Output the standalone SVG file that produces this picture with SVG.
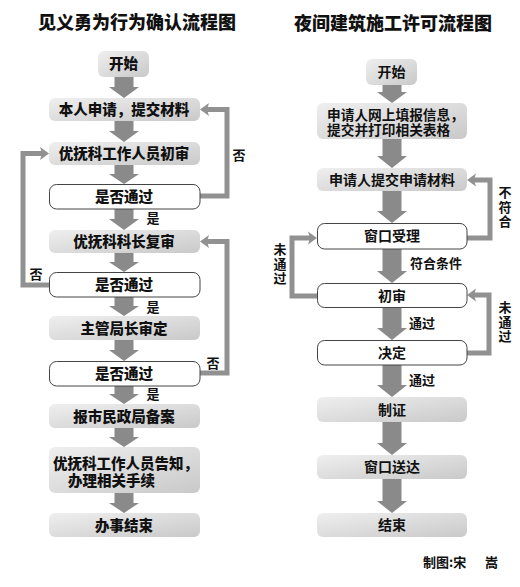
<svg xmlns="http://www.w3.org/2000/svg" width="520" height="587" viewBox="0 0 520 587">
<defs>
<linearGradient id="g" x1="0" y1="0" x2="1" y2="1">
<stop offset="0" stop-color="#efefef"/>
<stop offset="1" stop-color="#c9c9c9"/>
</linearGradient>
<style>
.box{fill:url(#g);}
.dec{fill:#ffffff;stroke:#444444;stroke-width:1;}
.t{font-family:"Noto Sans CJK SC","Noto Sans CJK JP",sans-serif;font-weight:700;fill:#111111;text-anchor:middle;}
.tl{font-size:14.5px;font-weight:900;}
.tr{font-size:14px;}
.title{font-family:"Noto Sans CJK SC",sans-serif;font-weight:900;font-size:18px;fill:#111111;text-anchor:middle;}
.lab{font-family:"Noto Sans CJK SC",sans-serif;font-weight:700;font-size:13px;fill:#111111;text-anchor:middle;}
.vlab{font-family:"Noto Sans CJK SC",sans-serif;font-weight:700;font-size:13px;fill:#111111;writing-mode:vertical-rl;text-orientation:upright;letter-spacing:1.5px;}
.arr{fill:#8a8a8a;}
.fb{fill:none;stroke:#919191;stroke-width:5;}
.ah{fill:#919191;}
</style>
</defs>
<rect width="520" height="587" fill="#ffffff"/>
<text class="title" x="137" y="29">见义勇为行为确认流程图</text>
<text class="title" x="393" y="30">夜间建筑施工许可流程图</text>

<g id="connectors">
<path class="arr" d="M114.5,77 H133.5 V87 H139 L124,98 L109,87 H114.5 Z"/>
<path class="arr" d="M114.5,121 H133.5 V131 H139 L124,142 L109,131 H114.5 Z"/>
<path class="arr" d="M114.5,165 H133.5 V174 H139 L124,184 L109,174 H114.5 Z"/>
<path class="arr" d="M114.5,209 H133.5 V219 H139 L124,230 L109,219 H114.5 Z"/>
<path class="arr" d="M114.5,253 H133.5 V262 H139 L124,272 L109,262 H114.5 Z"/>
<path class="arr" d="M114.5,297 H133.5 V306 H139 L124,316 L109,306 H114.5 Z"/>
<path class="arr" d="M114.5,340 H133.5 V350 H139 L124,361 L109,350 H114.5 Z"/>
<path class="arr" d="M114.5,386 H133.5 V394 H139 L124,404 L109,394 H114.5 Z"/>
<path class="arr" d="M114.5,428 H133.5 V437 H139 L124,447 L109,437 H114.5 Z"/>
<path class="arr" d="M114.5,493 H133.5 V503 H139 L124,513 L109,503 H114.5 Z"/>

<path class="arr" d="M382.5,85 H401.5 V92 H407 L392,103 L377,92 H382.5 Z"/>
<path class="arr" d="M382.5,139 H401.5 V156 H407 L392,168 L377,156 H382.5 Z"/>
<path class="arr" d="M382.5,191 H401.5 V211 H407 L392,223 L377,211 H382.5 Z"/>
<path class="arr" d="M382.5,249 H401.5 V271 H407 L392,283 L377,271 H382.5 Z"/>
<path class="arr" d="M382.5,307 H401.5 V328 H407 L392,340 L377,328 H382.5 Z"/>
<path class="arr" d="M382.5,365 H401.5 V385 H407 L392,397 L377,385 H382.5 Z"/>
<path class="arr" d="M382.5,422 H401.5 V443 H407 L392,455 L377,443 H382.5 Z"/>
<path class="arr" d="M382.5,479 H401.5 V501 H407 L392,513 L377,501 H382.5 Z"/>

<path class="fb" d="M200,196 H227 V109.5 H206"/>
<path class="ah" d="M200,109.5 L209,103 L207,109.5 L209,116 Z"/>
<path class="fb" d="M49,285 H23 V153.5 H43"/>
<path class="ah" d="M49,153.5 L40,147 L42,153.5 L40,160 Z"/>
<path class="fb" d="M200,373 H227 V241.5 H206"/>
<path class="ah" d="M200,241.5 L209,235 L207,241.5 L209,248 Z"/>

<path class="fb" d="M467,238 H490 V180 H473"/>
<path class="ah" d="M467,180 L476,173.5 L474,180 L476,186.5 Z"/>
<path class="fb" d="M317,296 H292 V238 H311"/>
<path class="ah" d="M317,238 L308,231.5 L310,238 L308,244.5 Z"/>
<path class="fb" d="M467,353 H489 V295 H473"/>
<path class="ah" d="M467,295 L476,288.5 L474,295 L476,301.5 Z"/>

<text class="lab" x="153" y="223">是</text>
<text class="lab" x="153" y="312">是</text>
<text class="lab" x="153" y="399">是</text>
<text class="lab" x="239" y="160">否</text>
<text class="lab" x="36" y="279">否</text>
<text class="lab" x="213" y="368">否</text>
<text class="vlab" x="505" y="186">不符合</text>
<text class="lab" x="436" y="268">符合条件</text>
<text class="vlab" x="280" y="243">未通过</text>
<text class="lab" x="422" y="328">通过</text>
<text class="vlab" x="505" y="301">未通过</text>
<text class="lab" x="422" y="385">通过</text>
</g>

<g id="l-start"><rect class="box" x="98" y="51" width="51" height="26" rx="6"/><text class="t tl" x="123.5" y="69">开始</text></g>
<g id="l-apply"><rect class="box" x="49" y="98" width="151" height="23" rx="6"/><text class="t tl" x="124" y="115">本人申请，提交材料</text></g>
<g id="l-review1"><rect class="box" x="49" y="142" width="151" height="23" rx="6"/><text class="t tl" x="124" y="159">优抚科工作人员初审</text></g>
<g id="l-dec1"><rect class="dec" x="49.5" y="184.5" width="150.5" height="24.5" rx="7"/><text class="t tl" x="124" y="202">是否通过</text></g>
<g id="l-review2"><rect class="box" x="49" y="230" width="151" height="23" rx="6"/><text class="t tl" x="124" y="247">优抚科科长复审</text></g>
<g id="l-dec2"><rect class="dec" x="49.5" y="272.5" width="150.5" height="24.5" rx="7"/><text class="t tl" x="124" y="290">是否通过</text></g>
<g id="l-review3"><rect class="box" x="49" y="316" width="151" height="24" rx="6"/><text class="t tl" x="124" y="333.5">主管局长审定</text></g>
<g id="l-dec3"><rect class="dec" x="49.5" y="361.5" width="150.5" height="24.5" rx="7"/><text class="t tl" x="124" y="379">是否通过</text></g>
<g id="l-file"><rect class="box" x="49" y="404" width="151" height="24" rx="6"/><text class="t tl" x="124" y="421.5">报市民政局备案</text></g>
<g id="l-notify"><rect class="box" x="49" y="447" width="151" height="46" rx="6"/><text class="t tl" style="text-anchor:start"><tspan x="53" y="468.5">优抚科工作人员告知，</tspan><tspan x="68" y="485.5">办理相关手续</tspan></text></g>
<g id="l-end"><rect class="box" x="49" y="513" width="151" height="24" rx="6"/><text class="t tl" x="124" y="530.5">办事结束</text></g>

<g id="r-start"><rect class="box" x="366" y="59" width="51" height="26" rx="6"/><text class="t tr" x="391.5" y="77">开始</text></g>
<g id="r-online"><rect class="box" x="317" y="103" width="150" height="36" rx="6"/><text class="t tr" style="text-anchor:start;font-size:13.7px"><tspan x="327" y="120">申请人网上填报信息，</tspan><tspan x="327" y="135">提交并打印相关表格</tspan></text></g>
<g id="r-submit"><rect class="box" x="317" y="168" width="150" height="23" rx="6"/><text class="t tr" x="392" y="184.5">申请人提交申请材料</text></g>
<g id="r-accept"><rect class="dec" x="317.5" y="223.5" width="149.5" height="25.5" rx="7"/><text class="t tr" x="392" y="241">窗口受理</text></g>
<g id="r-first"><rect class="dec" x="317.5" y="283.5" width="149.5" height="24" rx="7"/><text class="t tr" x="392" y="300.5">初审</text></g>
<g id="r-decide"><rect class="dec" x="317.5" y="340.5" width="149.5" height="24.5" rx="7"/><text class="t tr" x="392" y="358">决定</text></g>
<g id="r-cert"><rect class="box" x="317" y="397" width="150" height="25" rx="6"/><text class="t tr" x="392" y="414.5">制证</text></g>
<g id="r-deliver"><rect class="box" x="317" y="455" width="150" height="24" rx="6"/><text class="t tr" x="392" y="472">窗口送达</text></g>
<g id="r-end"><rect class="box" x="317" y="513" width="150" height="24" rx="6"/><text class="t tr" x="392" y="530">结束</text></g>

<text class="lab" x="423" y="567" style="text-anchor:start">制图:宋<tspan x="485">嵩</tspan></text>
</svg>
